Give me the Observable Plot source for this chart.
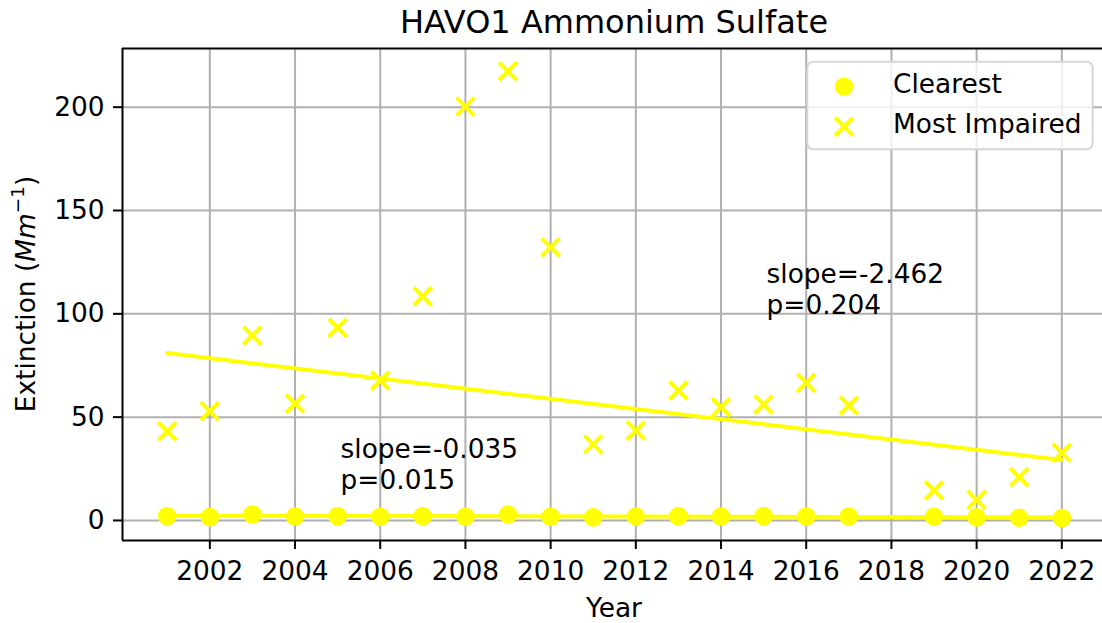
<!DOCTYPE html>
<html><head><meta charset="utf-8">
<script src="https://cdn.jsdelivr.net/npm/d3@7"></script>
<script src="https://cdn.jsdelivr.net/npm/@observablehq/plot@0.6"></script>
<style>
body{margin:0;background:#fff;font-family:"DejaVu Sans",sans-serif;}
#wrap{position:relative;width:1102px;height:623px;overflow:hidden;}
#title{position:absolute;left:122px;width:984px;top:5.5px;text-align:center;font-size:32px;line-height:1;color:#000;font-family:"DejaVu Sans",sans-serif;}
#chart{position:absolute;left:0;top:40px;}
</style></head><body>
<div id="wrap"><div id="title">HAVO1 Ammonium Sulfate</div><div id="chart"></div></div>
<script>
// ---- data ----
const years = [2001,2002,2003,2004,2005,2006,2007,2008,2009,2010,2011,2012,2013,2014,2015,2016,2017,2019,2020,2021,2022];
const clearest = [2.1,1.6,2.9,1.9,2.1,1.8,2.1,1.8,2.9,1.8,1.5,1.9,2.1,1.9,2.1,1.9,1.9,1.8,1.5,1.3,1.2];
const impaired = [43.2,52.9,89.5,56.5,93.2,67.7,108.5,200.3,217.4,132.2,36.8,43.5,62.9,54.8,56.1,66.6,55.6,14.5,10.0,21.0,32.8];
const trendYears = [2001, 2022];
const trendClearest = [2.3, 1.56];
const trendImpaired = [81.0, 29.3];
const annoX = [2005.07, 2015.07];
const annoY = [15, 100];
const annoText = ["slope=-0.035\np=0.015", "slope=-2.462\np=0.204"];
const xTicks = [2002,2004,2006,2008,2010,2012,2014,2016,2018,2020,2022];
const yTicks = [0,50,100,150,200];
const seriesNames = ["Clearest", "Most Impaired"];
const YELLOW = "#ffff00";
const FS = 26.4;

const data = years.map((yr,i)=>({year:yr, clearest:clearest[i], impaired:impaired[i]}));
const trend = trendYears.map((yr,i)=>({year:yr, clearest:trendClearest[i], impaired:trendImpaired[i]}));
const annos = annoText.map((t,i)=>({x:annoX[i], y:annoY[i], text:t}));
const xDom = [1999.95, 2022.955];
const yDom = [-9.7, 228.4];
const XR = 8.2, XW = 4;

const chart = Plot.plot({
  width:1102, height:583,
  marginLeft:122, marginRight:0, marginTop:8, marginBottom:83,
  style:{fontFamily:"DejaVu Sans", fontSize:FS+"px", background:"white", color:"black", overflow:"visible"},
  x:{domain:xDom},
  y:{domain:yDom},
  marks:[
    Plot.gridX({ticks:xTicks, stroke:"#b0b0b0", strokeOpacity:1, strokeWidth:2}),
    Plot.gridY({ticks:yTicks, stroke:"#b0b0b0", strokeOpacity:1, strokeWidth:2}),
    Plot.dot(data, {x:"year", y:"clearest", r:9.3, fill:YELLOW, stroke:"none"}),
    Plot.dot(data, {x:"year", y:"impaired", symbol:"times", r:XR, stroke:YELLOW, strokeWidth:XW}),
    Plot.line(trend, {x:"year", y:"clearest", stroke:YELLOW, strokeWidth:4}),
    Plot.line(trend, {x:"year", y:"impaired", stroke:YELLOW, strokeWidth:4}),
    Plot.text(annos, {x:"x", y:"y", text:"text", textAnchor:"start", lineAnchor:"bottom", lineHeight:1.18, fontSize:FS, fill:"black"}),
    Plot.ruleX([xDom[0]], {stroke:"black", strokeWidth:2}),
    Plot.ruleY(yDom, {stroke:"black", strokeWidth:2}),
    Plot.axisX({ticks:xTicks, tickFormat:d=>String(d), tickSize:9, tickPadding:12, strokeWidth:2, fontSize:FS, label:null}),
    Plot.axisY({ticks:yTicks, tickFormat:d=>String(d), tickSize:9, tickPadding:9, strokeWidth:2, fontSize:FS, label:null})
  ]
});
document.getElementById("chart").appendChild(chart);

const svg = d3.select(chart);
// y label
const yl = svg.append("text").attr("transform","translate(35,254) rotate(-90)")
  .attr("text-anchor","middle").attr("font-size",FS).attr("fill","black").attr("font-family","DejaVu Sans");
yl.append("tspan").text("Extinction (");
yl.append("tspan").attr("font-style","italic").text("Mm");
yl.append("tspan").attr("font-size",18.5).attr("dy",-11).text("\u22121");
yl.append("tspan").attr("dy",11).text(")");
// x label
svg.append("text").attr("x",614).attr("y",576.7).attr("text-anchor","middle")
  .attr("font-size",FS).attr("fill","black").attr("font-family","DejaVu Sans").text("Year");
// legend
const lg = svg.append("g").attr("text-anchor","start");
lg.append("rect").attr("x",807.3).attr("y",21.7).attr("width",285.4).attr("height",87.6).attr("rx",6)
  .attr("fill","white").attr("fill-opacity",0.8).attr("stroke","#d6d6d6").attr("stroke-width",2);
lg.append("circle").attr("cx",844).attr("cy",46.7).attr("r",9.3).attr("fill",YELLOW);
lg.append("path").attr("transform","translate(844,86.7)")
  .attr("d", d3.symbol(d3.symbolTimes, Math.PI*XR*XR)()).attr("fill","none").attr("stroke",YELLOW).attr("stroke-width",XW);
lg.append("text").attr("x",893).attr("y",53.3).attr("text-anchor","start").attr("font-size",FS).attr("fill","black").attr("font-family","DejaVu Sans").text(seriesNames[0]);
lg.append("text").attr("x",893).attr("y",93.3).attr("text-anchor","start").attr("font-size",FS).attr("fill","black").attr("font-family","DejaVu Sans").text(seriesNames[1]);
</script></body></html>
